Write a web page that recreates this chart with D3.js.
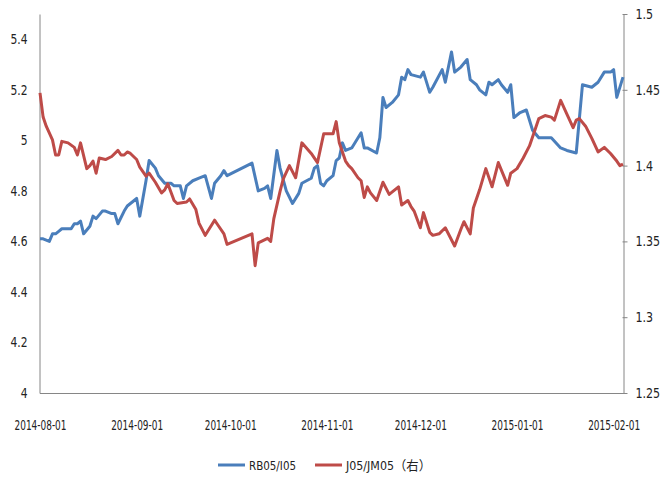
<!DOCTYPE html>
<html>
<head>
<meta charset="utf-8">
<script src="https://cdn.jsdelivr.net/npm/d3@7"></script>
<style>
  body { margin: 0; background: #fff; }
  svg text { font-family: "Liberation Sans Narrow", "DejaVu Sans Condensed", "Liberation Sans", "Noto Sans CJK SC", sans-serif; font-size: 14px; fill: #222; }
</style>
</head>
<body>
<div id="wrapper"></div>
<script>
// RB05/I05 (left axis)
const rbDates = [
  "2014-08-01","2014-08-02","2014-08-04","2014-08-05","2014-08-06","2014-08-07","2014-08-08","2014-08-10",
  "2014-08-11","2014-08-12","2014-08-13","2014-08-14","2014-08-15","2014-08-17","2014-08-18","2014-08-19",
  "2014-08-21","2014-08-22","2014-08-24","2014-08-25","2014-08-26","2014-08-28","2014-08-29","2014-08-31",
  "2014-09-01","2014-09-02","2014-09-04","2014-09-05","2014-09-07","2014-09-08","2014-09-10","2014-09-12",
  "2014-09-13","2014-09-15","2014-09-16","2014-09-17","2014-09-19","2014-09-21","2014-09-23","2014-09-25",
  "2014-09-26","2014-09-28","2014-09-29","2014-09-30","2014-10-08","2014-10-10","2014-10-12","2014-10-13",
  "2014-10-14","2014-10-16","2014-10-17","2014-10-19","2014-10-21","2014-10-23","2014-10-24","2014-10-27",
  "2014-10-28","2014-10-29","2014-10-30","2014-10-31","2014-11-01","2014-11-03","2014-11-04","2014-11-05",
  "2014-11-06","2014-11-07","2014-11-09","2014-11-12","2014-11-13","2014-11-14","2014-11-17","2014-11-18",
  "2014-11-19","2014-11-20","2014-11-22","2014-11-24","2014-11-25","2014-11-26","2014-11-27","2014-11-28",
  "2014-12-01","2014-12-02","2014-12-04","2014-12-05","2014-12-08","2014-12-09","2014-12-11","2014-12-12",
  "2014-12-14","2014-12-16","2014-12-17","2014-12-19","2014-12-20","2014-12-22","2014-12-23","2014-12-24",
  "2014-12-26","2014-12-27","2014-12-29","2014-12-30","2014-12-31","2015-01-02","2015-01-04","2015-01-06",
  "2015-01-08","2015-01-12","2015-01-15","2015-01-17","2015-01-20","2015-01-22","2015-01-25","2015-01-27",
  "2015-01-29","2015-01-31","2015-02-01","2015-02-02","2015-02-04"
];
const rbValues = [
  4.61,4.61,4.60,4.63,4.63,4.64,4.65,4.65,
  4.65,4.67,4.67,4.68,4.63,4.66,4.70,4.69,
  4.72,4.72,4.71,4.71,4.67,4.72,4.74,4.76,
  4.77,4.70,4.84,4.92,4.89,4.86,4.83,4.83,
  4.82,4.82,4.77,4.82,4.84,4.85,4.86,4.77,
  4.83,4.86,4.88,4.86,4.91,4.80,4.81,4.82,
  4.77,4.96,4.89,4.80,4.75,4.79,4.83,4.85,
  4.89,4.90,4.83,4.82,4.84,4.86,4.92,4.93,
  4.99,4.96,4.97,5.03,4.97,4.97,4.95,5.01,
  5.17,5.13,5.15,5.18,5.25,5.24,5.28,5.26,
  5.25,5.27,5.19,5.21,5.28,5.23,5.35,5.27,
  5.29,5.32,5.24,5.22,5.20,5.18,5.23,5.22,
  5.24,5.22,5.19,5.22,5.09,5.11,5.12,5.04,
  5.01,5.01,4.97,4.96,4.95,5.22,5.21,5.23,
  5.27,5.27,5.28,5.17,5.25
];

// J05/JM05 (right axis)
const jDates = [
  "2014-08-01","2014-08-02","2014-08-03","2014-08-05","2014-08-06","2014-08-07","2014-08-08","2014-08-10",
  "2014-08-12","2014-08-13","2014-08-14","2014-08-16","2014-08-17","2014-08-18","2014-08-19","2014-08-20",
  "2014-08-22","2014-08-24","2014-08-26","2014-08-27","2014-08-28","2014-08-29","2014-08-30","2014-09-01",
  "2014-09-02","2014-09-04","2014-09-05","2014-09-07","2014-09-09","2014-09-10","2014-09-11","2014-09-13",
  "2014-09-14","2014-09-17","2014-09-18","2014-09-20","2014-09-21","2014-09-23","2014-09-26","2014-09-27",
  "2014-09-29","2014-09-30","2014-10-08","2014-10-09","2014-10-10","2014-10-12","2014-10-13","2014-10-14",
  "2014-10-15","2014-10-17","2014-10-18","2014-10-20","2014-10-22","2014-10-24","2014-10-27","2014-10-29",
  "2014-10-31","2014-11-03","2014-11-04","2014-11-05","2014-11-07","2014-11-08","2014-11-09","2014-11-11",
  "2014-11-12","2014-11-13","2014-11-14","2014-11-15","2014-11-17","2014-11-19","2014-11-21","2014-11-24",
  "2014-11-25","2014-11-27","2014-11-28","2014-11-29","2014-12-01","2014-12-02","2014-12-04","2014-12-05",
  "2014-12-07","2014-12-09","2014-12-12","2014-12-14","2014-12-15","2014-12-17","2014-12-18","2014-12-20",
  "2014-12-22","2014-12-24","2014-12-26","2014-12-29","2014-12-30","2015-01-01","2015-01-03","2015-01-05",
  "2015-01-07","2015-01-08","2015-01-10","2015-01-12","2015-01-13","2015-01-15","2015-01-17","2015-01-19",
  "2015-01-20","2015-01-21","2015-01-23","2015-01-25","2015-01-27","2015-01-29","2015-01-31","2015-02-02",
  "2015-02-03","2015-02-04"
];
const jValues = [
  1.448,1.432,1.426,1.417,1.407,1.407,1.416,1.415,
  1.412,1.407,1.415,1.398,1.400,1.403,1.395,1.405,
  1.404,1.406,1.410,1.407,1.407,1.409,1.408,1.404,
  1.399,1.393,1.395,1.389,1.382,1.384,1.388,1.377,
  1.375,1.376,1.378,1.371,1.362,1.354,1.364,1.361,
  1.355,1.348,1.355,1.334,1.349,1.351,1.352,1.350,
  1.365,1.383,1.391,1.400,1.392,1.415,1.408,1.402,
  1.421,1.421,1.429,1.415,1.403,1.400,1.398,1.392,
  1.390,1.379,1.386,1.382,1.377,1.389,1.381,1.386,
  1.374,1.377,1.373,1.370,1.359,1.369,1.356,1.354,
  1.355,1.359,1.347,1.358,1.363,1.355,1.372,1.384,
  1.398,1.386,1.402,1.387,1.395,1.398,1.405,1.413,
  1.425,1.431,1.433,1.432,1.430,1.443,1.434,1.425,
  1.430,1.431,1.426,1.418,1.409,1.412,1.408,1.403,
  1.400,1.401
];

const xTickLabels = ["2014-08-01","2014-09-01","2014-10-01","2014-11-01","2014-12-01","2015-01-01","2015-02-01"];
const leftTicks = [4, 4.2, 4.4, 4.6, 4.8, 5, 5.2, 5.4];
const rightTicks = [1.25, 1.3, 1.35, 1.4, 1.45, 1.5];
const seriesNames = ["RB05/I05", "J05/JM05（右）"];
const seriesColors = ["#4A7EBB", "#BE4B48"];

const width = 664;
const height = 488;
const margin = { top: 14, right: 41, bottom: 95, left: 40 };
const axisColor = "#868686";

const parseDate = d3.timeParse("%Y-%m-%d");

const rbData = rbDates.map((d, i) => ({ date: parseDate(d), value: rbValues[i] }));
const jData = jDates.map((d, i) => ({ date: parseDate(d), value: jValues[i] }));

// the original uses a narrow font, so squeeze text horizontally
const squeeze = (sel, factor) => sel.each(function () {
  const w = this.getComputedTextLength();
  d3.select(this)
    .attr("textLength", w * factor)
    .attr("lengthAdjust", "spacingAndGlyphs");
});

const svg = d3.select("#wrapper")
  .append("svg")
  .attr("width", width)
  .attr("height", height);

const xScale = d3.scaleTime()
  .domain([parseDate("2014-08-01"), parseDate("2015-02-04")])
  .range([margin.left, width - margin.right]);

const yLeft = d3.scaleLinear()
  .domain([4, 5.5])
  .range([height - margin.bottom, margin.top]);

const yRight = d3.scaleLinear()
  .domain([1.25, 1.5])
  .range([height - margin.bottom, margin.top]);

// axes
const xAxis = d3.axisBottom(xScale)
  .tickValues(xTickLabels.map(parseDate))
  .tickFormat(d3.timeFormat("%Y-%m-%d"))
  .tickSize(0)
  .tickPadding(27);

const xg = svg.append("g")
  .attr("transform", `translate(0,${height - margin.bottom + 0.5})`)
  .call(xAxis);
xg.select(".domain").attr("stroke", axisColor).attr("d", `M${margin.left},0H${width - margin.right}`);

const leftAxis = d3.axisLeft(yLeft)
  .tickValues(leftTicks)
  .tickFormat(d3.format("~g"))
  .tickSize(0)
  .tickPadding(12);

const lg = svg.append("g")
  .attr("transform", `translate(${margin.left - 0.5},0)`)
  .call(leftAxis);
lg.select(".domain").attr("stroke", axisColor);

const rightAxis = d3.axisRight(yRight)
  .tickValues(rightTicks)
  .tickFormat(d3.format("~g"))
  .tickSizeInner(4)
  .tickSizeOuter(0)
  .tickPadding(8);

const rg = svg.append("g")
  .attr("transform", `translate(${width - margin.right + 0.5},0)`)
  .call(rightAxis);
rg.select(".domain").attr("stroke", axisColor);
rg.selectAll(".tick line").attr("stroke", axisColor).attr("x1", -1);

svg.selectAll(".tick text")
  .attr("font-family", null)
  .attr("font-size", null)
  .style("font-size", "14px")
  .attr("fill", "#222");

xg.selectAll(".tick text")
  .attr("textLength", 52)
  .attr("lengthAdjust", "spacingAndGlyphs");
squeeze(lg.selectAll(".tick text"), 0.85);
squeeze(rg.selectAll(".tick text"), 0.88);

// lines
const rbLine = d3.line()
  .x((d) => xScale(d.date))
  .y((d) => yLeft(d.value));

const jLine = d3.line()
  .x((d) => xScale(d.date))
  .y((d) => yRight(d.value));

svg.append("path")
  .datum(rbData)
  .attr("fill", "none")
  .attr("stroke", seriesColors[0])
  .attr("stroke-width", 3)
  .attr("stroke-linejoin", "round")
  .attr("d", rbLine);

svg.append("path")
  .datum(jData)
  .attr("fill", "none")
  .attr("stroke", seriesColors[1])
  .attr("stroke-width", 3)
  .attr("stroke-linejoin", "round")
  .attr("d", jLine);

// legend
const legendY = 465;
const legendX = [218, 315];
const legendTextW = [47, 85];
const legend = svg.append("g");
seriesNames.forEach((name, i) => {
  legend.append("line")
    .attr("x1", legendX[i])
    .attr("x2", legendX[i] + 27)
    .attr("y1", legendY)
    .attr("y2", legendY)
    .attr("stroke", seriesColors[i])
    .attr("stroke-width", 3);
  legend.append("text")
    .attr("x", legendX[i] + 31)
    .attr("y", legendY)
    .attr("dy", "0.35em")
    .style("font-size", "13px")
    .attr("textLength", legendTextW[i])
    .attr("lengthAdjust", "spacingAndGlyphs")
    .text(name);
});
</script>
</body>
</html>
